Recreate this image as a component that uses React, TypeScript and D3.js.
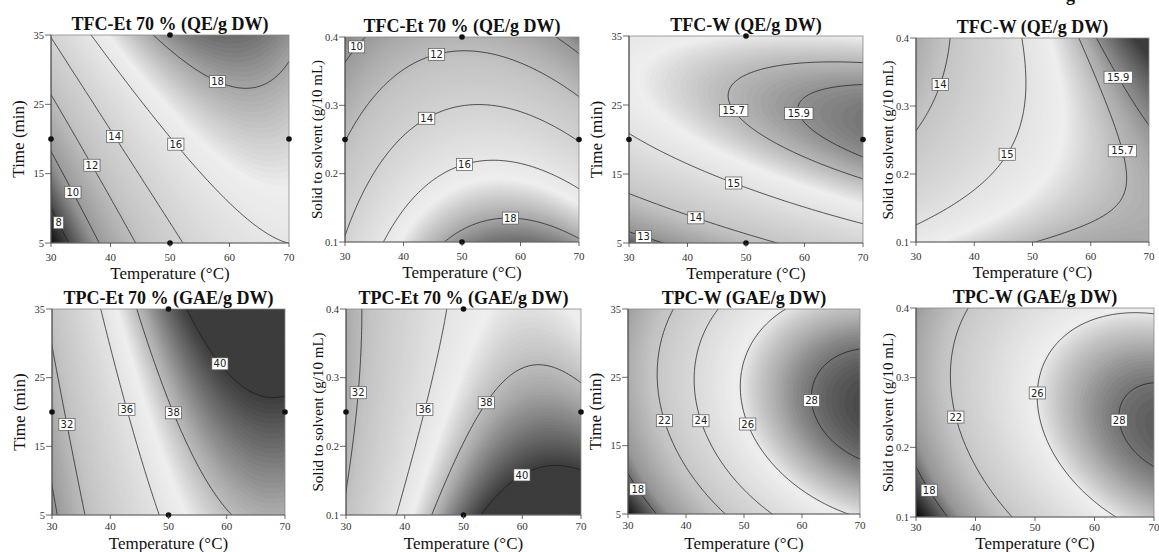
import React, { useMemo } from "react";
import * as d3 from "d3";

type Pt = [number, number, number];
type Lab = [number, number, number];

const TEMP_DOMAIN: [number, number] = [30, 70];
const TIME_DOMAIN: [number, number] = [5, 35];
const SOLID_DOMAIN: [number, number] = [0.1, 0.4];
const TEMP_TICKS = [30, 40, 50, 60, 70];
const TIME_TICKS = [5, 15, 25, 35];
const SOLID_TICKS = [0.1, 0.2, 0.3, 0.4];

// Points: [temperature, factor B, response value]
const tfcEtTimePoints: Pt[] = [
  [30, 9.3, 8], [31.5, 8.3, 8], [32.9, 5, 8],
  [30, 18.0, 10], [34.0, 12.4, 10], [38.1, 5, 10],
  [30, 26.1, 12], [33.5, 21.3, 12], [37.0, 16.4, 12], [44.1, 5, 12],
  [30, 34.6, 14], [35.4, 27.6, 14], [40.8, 20.4, 14], [51.9, 5, 14],
  [36.7, 35, 16], [43.9, 26.8, 16], [50.9, 19.3, 16], [57.9, 11.7, 16], [64.1, 7.9, 16], [70, 6.0, 16],
  [46.9, 35, 18], [52.8, 31.9, 18], [57.9, 28.3, 18], [62.4, 26.6, 18], [66.3, 27.5, 18], [70, 31.6, 18],
];
const tfcEtSolidPoints: Pt[] = [
  [30, 0.354, 10], [32.2, 0.385, 10], [33.1, 0.4, 10], [66.1, 0.4, 10], [70, 0.381, 10],
  [30, 0.234, 12], [34.8, 0.318, 12], [45.5, 0.379, 12], [50.2, 0.377, 12], [60.4, 0.357, 12], [70, 0.311, 12],
  [30, 0.102, 14], [33.7, 0.21, 14], [43.9, 0.283, 14], [53.0, 0.296, 14], [63.9, 0.271, 14], [70, 0.249, 14],
  [36.8, 0.1, 16], [50.2, 0.216, 16], [55.6, 0.216, 16], [70, 0.178, 16],
  [47.1, 0.1, 18], [58.4, 0.138, 18], [70, 0.106, 18],
];
const tfcWTimePoints: Pt[] = [
  [30, 6.6, 13], [35.2, 5, 13],
  [30, 12.1, 14], [41.6, 9.1, 14], [54.3, 5, 14],
  [30, 20.9, 15], [48.1, 14.1, 15], [70, 8.1, 15],
  [70, 30.9, 15.7], [61.5, 30.8, 15.7], [51.2, 29.8, 15.7], [47.5, 28.1, 15.7], [46.8, 25.7, 15.7],
  [47.7, 24.0, 15.7], [52.3, 20.9, 15.7], [61.5, 17.0, 15.7], [70, 13.9, 15.7],
  [70, 27.7, 15.9], [61.5, 27.5, 15.9], [58.7, 26.2, 15.9], [58.2, 23.7, 15.9], [61.5, 19.9, 15.9], [70, 17.4, 15.9],
];
const tfcWSolidPoints: Pt[] = [
  [35.8, 0.4, 14], [34.0, 0.331, 14], [30, 0.262, 14],
  [48.3, 0.4, 15], [48.9, 0.358, 15], [48.8, 0.308, 15], [45.4, 0.229, 15], [39.3, 0.172, 15], [30, 0.125, 15],
  [57.9, 0.4, 15.7], [62.8, 0.3, 15.7], [65.2, 0.233, 15.7], [66.0, 0.182, 15.7], [63.9, 0.143, 15.7],
  [57.0, 0.118, 15.7], [50.2, 0.1, 15.7],
  [60.8, 0.4, 15.9], [64.9, 0.344, 15.9], [70, 0.27, 15.9],
];
const tpcEtTimePoints: Pt[] = [
  [30, 8.3, 30], [31.0, 5, 30],
  [30, 29.7, 32], [32.7, 18.1, 32], [35.7, 5, 32],
  [38.3, 35, 36], [42.9, 20.4, 36], [48.5, 5, 36],
  [44.6, 35, 38], [50.7, 19.7, 38], [55.4, 11.7, 38], [60.7, 5, 38],
  [53.1, 35, 40], [58.9, 27.1, 40], [64.0, 22.9, 40], [67.5, 22.0, 40], [70, 22.6, 40],
];
const tpcEtSolidPoints: Pt[] = [
  [32.8, 0.4, 32], [32.3, 0.279, 32], [31.5, 0.23, 32], [30, 0.145, 32],
  [46.6, 0.4, 36], [43.4, 0.254, 36], [38.3, 0.1, 36],
  [45.7, 0.1, 38], [53.7, 0.266, 38], [63.6, 0.31, 38], [70, 0.29, 38],
  [52.5, 0.1, 40], [59.6, 0.163, 40], [65.3, 0.172, 40], [70, 0.167, 40],
];
const tpcWTimePoints: Pt[] = [
  [30, 10.6, 18], [32.0, 8.8, 18], [34.9, 5, 18],
  [38.3, 35, 22], [34.8, 23.8, 22], [36.0, 18.6, 22], [46.7, 5, 22],
  [45.3, 35, 24], [41.5, 23.8, 24], [42.7, 18.6, 24], [54.7, 5, 24],
  [56.5, 35, 26], [49.9, 22.3, 26], [50.7, 18.3, 26], [68.0, 5, 26],
  [70, 28.9, 28], [61.5, 21.6, 28], [70, 13.0, 28],
];
const tpcWSolidPoints: Pt[] = [
  [30, 0.168, 18], [32.5, 0.139, 18], [35.3, 0.1, 18],
  [39.0, 0.4, 22], [35.9, 0.29, 22], [36.9, 0.243, 22], [39.6, 0.168, 22], [46.4, 0.1, 22],
  [70, 0.389, 26], [59.8, 0.387, 26], [54.2, 0.36, 26], [51.1, 0.322, 26], [51.0, 0.278, 26],
  [52.0, 0.216, 26], [57.0, 0.149, 26], [63.4, 0.1, 26],
  [70, 0.292, 28], [64.8, 0.239, 28], [70, 0.166, 28],
];

// contour levels drawn in each panel
const tfcEtTimeLevels = [8, 10, 12, 14, 16, 18];
const tfcEtSolidLevels = [10, 12, 14, 16, 18];
const tfcWTimeLevels = [13, 14, 15, 15.7, 15.9];
const tfcWSolidLevels = [14, 15, 15.7, 15.9];
const tpcEtTimeLevels = [30, 32, 36, 38, 40];
const tpcEtSolidLevels = [32, 36, 38, 40];
const tpcWTimeLevels = [18, 22, 24, 26, 28];
const tpcWSolidLevels = [18, 22, 26, 28];

// contour labels: [level, temperature, factor B]
const tfcEtTimeLabels: Lab[] = [[8, 31.5, 8.3], [10, 34.0, 12.4], [12, 37.0, 16.4], [14, 40.8, 20.4], [16, 50.9, 19.3], [18, 57.9, 28.3]];
const tfcEtSolidLabels: Lab[] = [[10, 32.2, 0.385], [12, 45.5, 0.379], [14, 43.9, 0.283], [16, 50.2, 0.216], [18, 58.4, 0.138]];
const tfcWTimeLabels: Lab[] = [[13, 32.5, 6.1], [14, 41.6, 9.1], [15, 48.1, 14.1], [15.7, 47.7, 24.0], [15.9, 58.2, 23.7]];
const tfcWSolidLabels: Lab[] = [[14, 34.0, 0.331], [15, 45.4, 0.229], [15.7, 65.2, 0.233], [15.9, 64.9, 0.344]];
const tpcEtTimeLabels: Lab[] = [[32, 32.7, 18.1], [36, 42.9, 20.4], [38, 50.7, 19.7], [40, 58.9, 27.1]];
const tpcEtSolidLabels: Lab[] = [[32, 32.3, 0.279], [36, 43.4, 0.254], [38, 53.7, 0.266], [40, 59.6, 0.163]];
const tpcWTimeLabels: Lab[] = [[18, 32.0, 8.8], [22, 36.0, 18.6], [24, 42.7, 18.6], [26, 50.7, 18.3], [28, 61.5, 21.6]];
const tpcWSolidLabels: Lab[] = [[18, 32.5, 0.139], [22, 36.9, 0.243], [26, 51.0, 0.278], [28, 64.8, 0.239]];

// design points shown
const timeDesignPoints: [number, number][] = [[30, 20], [50, 35], [50, 5], [70, 20]];
const solidDesignPoints: [number, number][] = [[30, 0.25], [50, 0.4], [50, 0.1], [70, 0.25]];

// shading range of each response
const tfcEtShade: [number, number] = [6.5, 19.5];
const tfcWShade: [number, number] = [12.0, 16.3];
const tpcEtShade: [number, number] = [26.3, 40.0];
const tpcWShade: [number, number] = [15.6, 28.8];

const GRAY_T = [0, 0.1, 0.25, 0.45, 0.62, 0.78, 0.88, 1];
const GRAY_V = [5, 60, 150, 195, 215, 238, 170, 60];

const TITLES = [
  "TFC-Et 70 % (QE/g DW)", "TFC-Et 70 % (QE/g DW)", "TFC-W (QE/g DW)", "TFC-W (QE/g DW)",
  "TPC-Et 70 % (GAE/g DW)", "TPC-Et 70 % (GAE/g DW)", "TPC-W (GAE/g DW)", "TPC-W (GAE/g DW)",
];

interface PanelCfg {
  title: string;
  points: Pt[];
  levels: number[];
  labels: Lab[];
  yDomain: [number, number];
  yTicks: number[];
  yTitle: string;
  design: [number, number][];
  shade: [number, number];
}

const TIME_TITLE = "Time (min)";
const SOLID_TITLE = "Solid to solvent (g/10 mL)";

const PANELS: PanelCfg[] = [
  { title: TITLES[0], points: tfcEtTimePoints, levels: tfcEtTimeLevels, labels: tfcEtTimeLabels, yDomain: TIME_DOMAIN, yTicks: TIME_TICKS, yTitle: TIME_TITLE, design: timeDesignPoints, shade: tfcEtShade },
  { title: TITLES[1], points: tfcEtSolidPoints, levels: tfcEtSolidLevels, labels: tfcEtSolidLabels, yDomain: SOLID_DOMAIN, yTicks: SOLID_TICKS, yTitle: SOLID_TITLE, design: solidDesignPoints, shade: tfcEtShade },
  { title: TITLES[2], points: tfcWTimePoints, levels: tfcWTimeLevels, labels: tfcWTimeLabels, yDomain: TIME_DOMAIN, yTicks: TIME_TICKS, yTitle: TIME_TITLE, design: timeDesignPoints, shade: tfcWShade },
  { title: TITLES[3], points: tfcWSolidPoints, levels: tfcWSolidLevels, labels: tfcWSolidLabels, yDomain: SOLID_DOMAIN, yTicks: SOLID_TICKS, yTitle: SOLID_TITLE, design: [], shade: tfcWShade },
  { title: TITLES[4], points: tpcEtTimePoints, levels: tpcEtTimeLevels, labels: tpcEtTimeLabels, yDomain: TIME_DOMAIN, yTicks: TIME_TICKS, yTitle: TIME_TITLE, design: timeDesignPoints, shade: tpcEtShade },
  { title: TITLES[5], points: tpcEtSolidPoints, levels: tpcEtSolidLevels, labels: tpcEtSolidLabels, yDomain: SOLID_DOMAIN, yTicks: SOLID_TICKS, yTitle: SOLID_TITLE, design: solidDesignPoints, shade: tpcEtShade },
  { title: TITLES[6], points: tpcWTimePoints, levels: tpcWTimeLevels, labels: tpcWTimeLabels, yDomain: TIME_DOMAIN, yTicks: TIME_TICKS, yTitle: TIME_TITLE, design: [], shade: tpcWShade },
  { title: TITLES[7], points: tpcWSolidPoints, levels: tpcWSolidLevels, labels: tpcWSolidLabels, yDomain: SOLID_DOMAIN, yTicks: SOLID_TICKS, yTitle: SOLID_TITLE, design: [], shade: tpcWShade },
];

const LAYOUT = [
  { left: 51, top: 35, right: 289, bottom: 243, tickOff: 18, xTitle: 36 },
  { left: 345, top: 37, right: 579, bottom: 242, tickOff: 18, xTitle: 36 },
  { left: 629, top: 36, right: 863, bottom: 243, tickOff: 18, xTitle: 36 },
  { left: 916, top: 38, right: 1149, bottom: 242, tickOff: 18, xTitle: 36 },
  { left: 52, top: 309, right: 285, bottom: 515, tickOff: 15, xTitle: 34 },
  { left: 346, top: 309, right: 581, bottom: 515, tickOff: 15, xTitle: 34 },
  { left: 628, top: 309, right: 860, bottom: 514, tickOff: 15, xTitle: 35 },
  { left: 916, top: 308, right: 1154, bottom: 517, tickOff: 14, xTitle: 32 },
];

// quadratic response-surface model fitted (least squares) to the read contour points
function fitSurface(pts: Pt[], xd: [number, number], yd: [number, number]) {
  const xm = (xd[0] + xd[1]) / 2, xh = (xd[1] - xd[0]) / 2;
  const ym = (yd[0] + yd[1]) / 2, yh = (yd[1] - yd[0]) / 2;
  const basis = (X: number, Y: number) => {
    const x = (X - xm) / xh, y = (Y - ym) / yh;
    return [1, x, y, x * y, x * x, y * y];
  };
  const n = 6;
  const A = Array.from({ length: n }, () => new Array(n + 1).fill(0));
  pts.forEach(([X, Y, v]) => {
    const b = basis(X, Y);
    for (let i = 0; i < n; i++) {
      for (let j = 0; j < n; j++) A[i][j] += b[i] * b[j];
      A[i][n] += b[i] * v;
    }
  });
  for (let i = 0; i < n; i++) A[i][i] += 1e-6;
  for (let c = 0; c < n; c++) {
    let p = c;
    for (let r = c + 1; r < n; r++) if (Math.abs(A[r][c]) > Math.abs(A[p][c])) p = r;
    [A[c], A[p]] = [A[p], A[c]];
    for (let r = 0; r < n; r++) {
      if (r === c) continue;
      const f = A[r][c] / A[c][c];
      for (let k = c; k <= n; k++) A[r][k] -= f * A[c][k];
    }
  }
  const coef = A.map((row, i) => row[n] / row[i]);
  return (X: number, Y: number) => {
    const b = basis(X, Y);
    return b.reduce((s, bi, i) => s + bi * coef[i], 0);
  };
}

const grayScale = d3.scaleLinear().domain(GRAY_T).range(GRAY_V).clamp(true);

type Box = { left: number; top: number; right: number; bottom: number; tickOff: number; xTitle: number };

function computePanel(cfg: PanelCfg, box: Box) {
  const { left, top, right, bottom } = box;
  const w = right - left, h = bottom - top;
  const xs = d3.scaleLinear().domain(TEMP_DOMAIN).range([left, right]);
  const ys = d3.scaleLinear().domain(cfg.yDomain).range([bottom, top]);
  const f = fitSurface(cfg.points, TEMP_DOMAIN, cfg.yDomain);
  const pad = 6, nx = 150, ny = 130;
  const gx0 = left - pad, gw = w + 2 * pad, gy0 = top - pad, gh = h + 2 * pad;
  const values: number[] = new Array(nx * ny);
  for (let j = 0; j < ny; j++) {
    for (let i = 0; i < nx; i++) {
      const px = gx0 + ((i + 0.5) * gw) / nx;
      const py = gy0 + ((j + 0.5) * gh) / ny;
      values[j * nx + i] = f(xs.invert(px), ys.invert(py));
    }
  }
  const toPx = (gx: number, gy: number): [number, number] => [gx0 + (gx * gw) / nx, gy0 + (gy * gh) / ny];
  const proj = d3.geoTransform({
    point(this: any, gx: number, gy: number) {
      const p = toPx(gx, gy);
      this.stream.point(p[0], p[1]);
    },
  });
  const path = d3.geoPath(proj);
  const [lo, hi] = cfg.shade;
  const gray = (v: number) => {
    const g = Math.round(grayScale((v - lo) / (hi - lo)));
    return `rgb(${g},${g},${g})`;
  };
  const vmin = d3.min(values) as number, vmax = d3.max(values) as number;
  const nb = 170;
  const step = (vmax - vmin) / nb;
  const thr = d3.range(1, nb).map((k) => vmin + k * step);
  const bands = d3.contours().size([nx, ny]).thresholds(thr)(values).map((c) => ({
    d: path(c as any) || "",
    fill: gray(c.value + step / 2),
  }));
  const bg = gray(vmin + step / 2);
  const lineContours = d3.contours().size([nx, ny]).thresholds(cfg.levels)(values);
  const lines = lineContours.map((c) => path(c as any) || "");
  const labels = cfg.labels.map(([lv, X, Y]) => {
    const ax = xs(X), ay = ys(Y);
    const c = lineContours.find((cc) => Math.abs(cc.value - lv) < 1e-9);
    let best: [number, number] = [ax, ay];
    let bd = Infinity;
    if (c) {
      c.coordinates.forEach((poly) =>
        poly.forEach((ring) =>
          ring.forEach(([gx, gy]) => {
            const [px, py] = toPx(gx, gy);
            if (px < left + 7 || px > right - 7 || py < top + 6 || py > bottom - 6) return;
            const d = (px - ax) ** 2 + (py - ay) ** 2;
            if (d < bd) { bd = d; best = [px, py]; }
          })
        )
      );
    }
    return { x: best[0], y: best[1], text: String(lv) };
  });
  return { xs, ys, bands, bg, lines, labels, box, w, h };
}

const SERIF = "'Liberation Serif', 'Times New Roman', Times, serif";
const SANS = "'DejaVu Sans', Verdana, sans-serif";

export default function App() {
  const panels = useMemo(() => PANELS.map((p, i) => ({ cfg: p, ...computePanel(p, LAYOUT[i]) })), []);
  return (
    <svg width={1159} height={552} style={{ position: "absolute", left: 0, top: 0, background: "#fff" }} fontFamily={SERIF}>
      <rect x={0} y={0} width={1159} height={552} fill="#fff" />
      <text x={1066} y={0.5} fontSize={18} fontWeight="bold" fill="#111">g</text>
      {panels.map((p, i) => {
        const { left, top, right, bottom, xTitle, tickOff } = p.box;
        const cx = (left + right) / 2, cy = (top + bottom) / 2;
        const isTime = p.cfg.yDomain === TIME_DOMAIN;
        return (
          <g key={i}>
            <defs>
              <clipPath id={`clip${i}`}>
                <rect x={left} y={top} width={p.w} height={p.h} />
              </clipPath>
            </defs>
            <g clipPath={`url(#clip${i})`}>
              <rect x={left} y={top} width={p.w} height={p.h} fill={p.bg} />
              {p.bands.map((b, k) => (
                <path key={k} d={b.d} fill={b.fill} stroke={b.fill} strokeWidth={0.3} />
              ))}
              {p.lines.map((d, k) => (
                <path key={k} d={d} fill="none" stroke="#1c1c1c" strokeWidth={0.75} />
              ))}
            </g>
            <rect x={left} y={top} width={p.w} height={p.h} fill="none" stroke="#8a8a8a" strokeWidth={0.8} />
            <line x1={left} y1={top} x2={left} y2={bottom} stroke="#333" strokeWidth={0.9} />
            <line x1={left} y1={bottom} x2={right} y2={bottom} stroke="#555" strokeWidth={0.8} />
            {p.labels.map((l, k) => {
              const tw = l.text.length * 6.1 + 4;
              return (
                <g key={k}>
                  <rect x={l.x - tw / 2} y={l.y - 6} width={tw} height={12} fill="#fff" stroke="#555" strokeWidth={0.7} />
                  <text x={l.x} y={l.y + 3.6} textAnchor="middle" fontSize={10} fontFamily={SANS} fill="#222">{l.text}</text>
                </g>
              );
            })}
            {p.cfg.design.map(([X, Y], k) => (
              <circle key={k} cx={p.xs(X)} cy={p.ys(Y)} r={2.8} fill="#111" />
            ))}
            {p.cfg.yTicks.map((t) => (
              <g key={t}>
                <line x1={left - 6} x2={left} y1={p.ys(t)} y2={p.ys(t)} stroke="#444" strokeWidth={0.8} />
                <text x={left - 7} y={p.ys(t) + 3.5} textAnchor="end" fontSize={10.5} fill="#333">{String(t)}</text>
              </g>
            ))}
            {TEMP_TICKS.map((t) => (
              <g key={t}>
                <line x1={p.xs(t)} x2={p.xs(t)} y1={bottom} y2={bottom + 4} stroke="#444" strokeWidth={0.8} />
                <text x={p.xs(t)} y={bottom + tickOff} textAnchor="middle" fontSize={11} fill="#333">{String(t)}</text>
              </g>
            ))}
            <text x={cx} y={top - 5} textAnchor="middle" fontSize={18} fontWeight="bold" fill="#111">{p.cfg.title}</text>
            <text x={cx} y={bottom + xTitle} textAnchor="middle" fontSize={17} fill="#111">Temperature (°C)</text>
            <text
              transform={`translate(${left - (isTime ? 27 : 23)},${cy}) rotate(-90)`}
              textAnchor="middle"
              fontSize={isTime ? 17 : 15}
              fill="#111"
            >
              {p.cfg.yTitle}
            </text>
          </g>
        );
      })}
    </svg>
  );
}
